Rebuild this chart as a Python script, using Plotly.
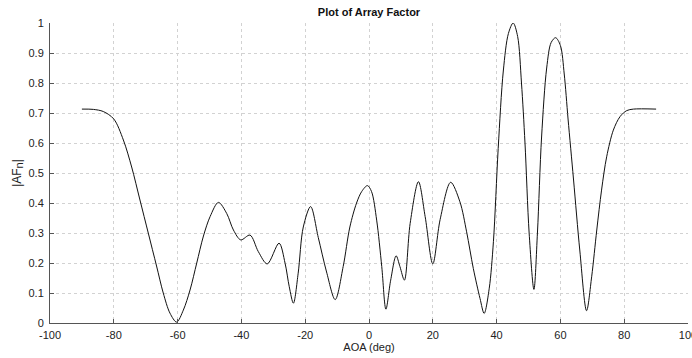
import plotly.graph_objects as go

# Angle of arrival (deg) and normalized array factor magnitude
aoa_deg = [
    -90, -86.4, -83.3, -80, -77, -74.4, -71.8, -69.2, -66.6, -64.5, -62.4,
    -60.3, -58.2, -56.1, -54, -51.9, -49.8, -47.2, -44.6, -42.5, -40.2,
    -37.3, -34.7, -31.9, -28.2, -26.3, -25, -23.7, -22.2, -20.6, -18.3,
    -15.9, -13.3, -10.6, -8.1, -6, -3.9, -2.3, -0.5, 0.8, 2.4, 4, 5.3,
    6.8, 8.5, 9.7, 11.1, 12.9, 15.5, 17.6, 20, 22.3, 25.6, 28.5, 30.6,
    32.7, 34.8, 36.1, 37.7, 39, 40.5, 42.1, 43.7, 45.2, 46.6, 47.8, 48.9,
    50.2, 51.7, 52.8, 54.1, 55.7, 57.1, 58.5, 60, 61.2, 62.4, 64.1, 66.1,
    68.2, 69.8, 71.4, 72.9, 74.5, 76.6, 78.7, 80.8, 82.9, 90,
]
af_mag = [
    0.713, 0.712, 0.705, 0.68, 0.61, 0.52, 0.41, 0.30, 0.19, 0.10, 0.033,
    0.003, 0.043, 0.11, 0.20, 0.29, 0.355, 0.402, 0.365, 0.31, 0.277,
    0.293, 0.238, 0.197, 0.266, 0.199, 0.121, 0.066, 0.166, 0.32, 0.388,
    0.285, 0.17, 0.078, 0.188, 0.32, 0.40, 0.438, 0.458, 0.438, 0.343, 0.188, 0.046,
    0.143, 0.224, 0.188, 0.143, 0.332, 0.471, 0.355, 0.197, 0.345, 0.469, 0.404, 0.304,
    0.182, 0.082, 0.032, 0.116, 0.271, 0.582, 0.84, 0.965, 1.0, 0.955, 0.80, 0.60,
    0.30, 0.112, 0.30, 0.62, 0.85, 0.935, 0.951, 0.925, 0.83, 0.68, 0.48, 0.24,
    0.041, 0.154, 0.31, 0.443, 0.554, 0.643, 0.688, 0.708, 0.713, 0.713,
]

x_ticks = [-100, -80, -60, -40, -20, 0, 20, 40, 60, 80, 100]
x_tick_text = ["-100", "-80", "-60", "-40", "-20", "0", "20", "40", "60", "80", "100"]
y_ticks = [0, 0.1, 0.2, 0.3, 0.4, 0.5, 0.6, 0.7, 0.8, 0.9, 1]
y_tick_text = ["0", "0.1", "0.2", "0.3", "0.4", "0.5", "0.6", "0.7", "0.8", "0.9", "1"]

fig = go.Figure()
fig.add_trace(go.Scatter(
    x=aoa_deg, y=af_mag, mode="lines",
    line=dict(color="#111111", width=1, shape="spline", smoothing=0.9),
    showlegend=False, hoverinfo="x+y",
))

font = dict(family="Liberation Sans, Arial, sans-serif", size=11, color="#222222")

fig.update_layout(
    width=692, height=358,
    margin=dict(l=50, r=4, t=23, b=35),
    paper_bgcolor="white", plot_bgcolor="white",
    font=font,
    title=dict(text="<b>Plot of Array Factor</b>", x=0.5, xanchor="center",
               xref="paper", y=0.965, yanchor="middle",
               font=dict(family="Liberation Sans, Arial, sans-serif", size=11, color="#111111")),
)
fig.update_xaxes(
    range=[-100, 100], tickmode="array", tickvals=x_ticks, ticktext=x_tick_text,
    showgrid=True, gridcolor="#d2d2d2", griddash="dot", gridwidth=1,
    zeroline=False, showline=True, linecolor="#555555", linewidth=1,
    ticks="inside", ticklen=4, tickcolor="#555555", ticklabelstandoff=2,
    ticklabeloverflow="allow", automargin=False,
    title=dict(text="AOA (deg)", standoff=0, font=font),
)
fig.update_yaxes(
    range=[0, 1], tickmode="array", tickvals=y_ticks, ticktext=y_tick_text,
    showgrid=True, gridcolor="#d2d2d2", griddash="dot", gridwidth=1,
    zeroline=False, showline=True, linecolor="#555555", linewidth=1,
    ticks="inside", ticklen=4, tickcolor="#555555", ticklabelstandoff=3,
    automargin=False,
    title=dict(text="|AF<sub><span style='font-size:11px'>n</span></sub>|",
               standoff=4, font=dict(family="Liberation Sans, Arial, sans-serif",
                                     size=12, color="#222222")),
)

fig.write_html("out.html")
